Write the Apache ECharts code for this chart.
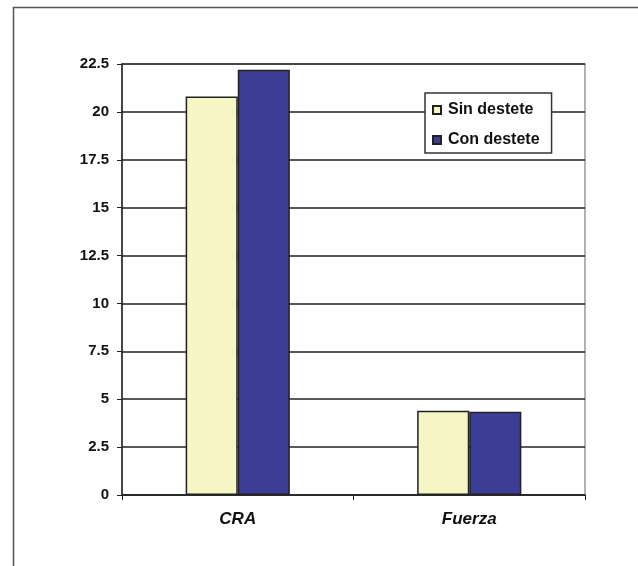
<!DOCTYPE html>
<html lang="es">
  <head>
    <meta charset="UTF-8" />
    <title>CRA y Fuerza</title>
    <style>
      * {
        margin: 0;
        padding: 0;
      }
      html,
      body {
        width: 100%;
        height: 100%;
        background: #fff;
      }
      #chart {
        width: 638px;
        height: 566px;
      }
    </style>
    <script src="https://cdn.jsdelivr.net/npm/echarts@6/dist/echarts.min.js"></script>
  </head>
  <body>
    <div id="chart"></div>
    <script>
      // datos
      var categories = ["CRA", "Fuerza"];
      var sinDestete = [20.8, 4.4];
      var conDestete = [22.2, 4.35];
      var seriesNames = ["Sin destete", "Con destete"];

      var font = "Liberation Sans, Arial, sans-serif";

      var option = {
        backgroundColor: "#ffffff",
        animation: false,
        // marco exterior
        graphic: [
          {
            type: "polyline",
            shape: { points: [[13.5, 566], [13.5, 7.5], [638, 7.5]] },
            style: { stroke: "#555", lineWidth: 1.5, fill: null },
          },
        ],
        grid: {
          left: 122,
          right: 53,
          top: 64,
          bottom: 71,
          show: true,
          borderColor: "#999",
          borderWidth: 1.5,
          backgroundColor: "transparent",
        },
        legend: {
          data: seriesNames,
          orient: "vertical",
          left: 425,
          top: 93,
          itemWidth: 8,
          itemHeight: 8,
          itemGap: 14,
          padding: [9, 12, 5, 7],
          backgroundColor: "#fff",
          borderColor: "#333",
          borderWidth: 1.5,
          icon: "rect",
          textStyle: {
            fontFamily: font,
            fontWeight: "bold",
            fontSize: 16,
            color: "#111",
            padding: [0, 0, 0, 2],
          },
        },
        xAxis: {
          type: "category",
          data: categories,
          axisLine: { lineStyle: { color: "#222", width: 1.5 } },
          axisTick: { show: true, length: 5, lineStyle: { color: "#222" } },
          axisLabel: {
            fontFamily: font,
            fontWeight: "bold",
            fontStyle: "italic",
            fontSize: 17,
            color: "#111",
            margin: 16,
          },
        },
        yAxis: {
          type: "value",
          min: 0,
          max: 22.5,
          interval: 2.5,
          axisLine: { show: true, lineStyle: { color: "#222", width: 1.5 } },
          axisTick: { show: true, length: 5, lineStyle: { color: "#222" } },
          splitLine: { lineStyle: { color: "#222", width: 1.5 } },
          axisLabel: {
            fontFamily: font,
            fontWeight: "bold",
            fontSize: 15,
            color: "#111",
            margin: 13,
          },
        },
        series: [
          {
            name: seriesNames[0],
            type: "bar",
            data: sinDestete,
            barGap: "0%",
            barCategoryGap: "55%",
            itemStyle: { color: "#f6f5c4", borderColor: "#222", borderWidth: 1.5 },
          },
          {
            name: seriesNames[1],
            type: "bar",
            data: conDestete,
            itemStyle: { color: "#3e3d96", borderColor: "#222", borderWidth: 1.5 },
          },
        ],
      };

      var myChart = echarts.init(document.getElementById("chart"));
      myChart.setOption(option);
    </script>
  </body>
</html>
